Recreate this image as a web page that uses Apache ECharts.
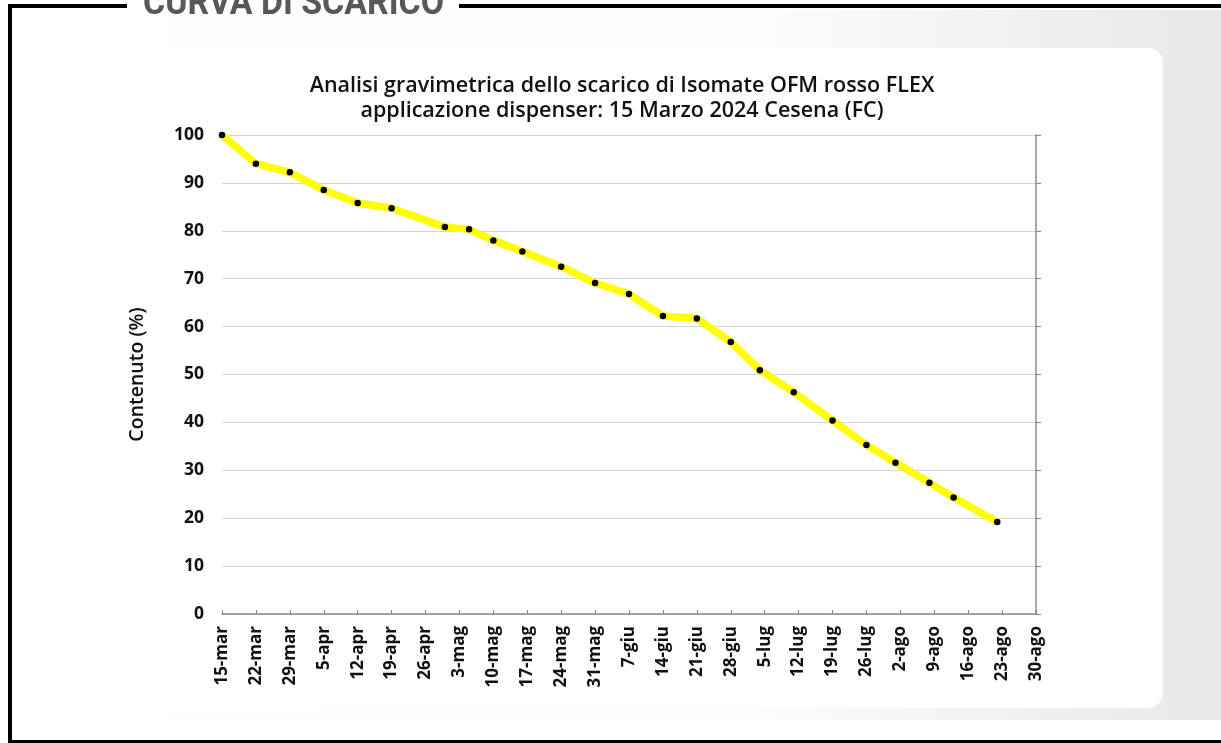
<!DOCTYPE html>
<html>
<head>
<meta charset="utf-8">
<script src="https://cdn.jsdelivr.net/npm/echarts@6/dist/echarts.min.js"></script>
<style>
html,body{margin:0;padding:0;background:#fff;}
#chart{width:1221px;height:743px;}
</style>
</head>
<body>
<div id="chart"></div>
<script>
// Tick labels (weekly, starting 15 March 2024)
const tickLabels = ['15-mar','22-mar','29-mar','5-apr','12-apr','19-apr','26-apr','3-mag','10-mag','17-mag','24-mag','31-mag','7-giu','14-giu','21-giu','28-giu','5-lug','12-lug','19-lug','26-lug','2-ago','9-ago','16-ago','23-ago','30-ago'];
// Measurement day (days since 15 March 2024)
const measureDays = [0, 7, 14, 21, 28, 35, 46, 51, 56, 62, 70, 77, 84, 91, 98, 105, 111, 118, 126, 133, 139, 146, 151, 160];
// Remaining content (%)
const contentValues = [100, 94, 92.2, 88.5, 85.8, 84.7, 80.8, 80.3, 78, 75.7, 72.5, 69.1, 66.8, 62.2, 61.7, 56.8, 50.9, 46.3, 40.4, 35.3, 31.6, 27.4, 24.3, 19.2];

const chartTitle = 'Analisi gravimetrica dello scarico di Isomate OFM rosso FLEX\napplicazione dispenser: 15 Marzo 2024 Cesena (FC)';
const pageTitle = 'CURVA DI SCARICO';
const yName = 'Contenuto (%)';

const seriesData = measureDays.map((d, i) => [d, contentValues[i]]);

const chart = echarts.init(document.getElementById('chart'), null, {renderer: 'canvas'});
const FONT = '"Open Sans", "Noto Sans", sans-serif';

chart.setOption({
  backgroundColor: '#ffffff',
  animation: false,
  title: {
    text: chartTitle,
    left: 617, top: 68, textAlign: 'center',
    textStyle: {fontFamily: FONT, fontSize: 21.5, fontWeight: 600, color: '#111', lineHeight: 25}
  },
  graphic: [
    {type: 'rect', z: -20, shape: {x: 12, y: 10, width: 1209, height: 710},
      style: {fill: new echarts.graphic.LinearGradient(0, 0, 1, 0, [
        {offset: 0, color: '#ffffff'}, {offset: 0.6, color: '#fdfdfd'}, {offset: 1, color: '#e8e8e8'}])}},
    {type: 'rect', z: -19, shape: {x: 75, y: 48, width: 1088, height: 660, r: 15},
      style: {fill: '#ffffff'}},
    {type: 'line', z: 100, shape: {x1: 8, y1: 6, x2: 127, y2: 6}, style: {stroke: '#000', lineWidth: 4}},
    {type: 'line', z: 100, shape: {x1: 459, y1: 6, x2: 1221, y2: 6}, style: {stroke: '#000', lineWidth: 4}},
    {type: 'line', z: 100, shape: {x1: 10, y1: 4, x2: 10, y2: 743}, style: {stroke: '#000', lineWidth: 4}},
    {type: 'line', z: 100, shape: {x1: 8, y1: 741.5, x2: 1221, y2: 741.5}, style: {stroke: '#000', lineWidth: 3}},
    {type: 'text', z: 100, x: 143, y: 5, scaleX: 0.915,
      style: {text: pageTitle, fontFamily: 'Roboto, sans-serif', fontSize: 37, fontWeight: 'bold', fill: '#585858', textVerticalAlign: 'middle', verticalAlign: 'middle'}}
  ],
  grid: {left: 222, right: 185, top: 135, bottom: 129, containLabel: false},
  xAxis: {
    type: 'value', min: 0, max: 168, interval: 7,
    axisLine: {show: true, lineStyle: {color: '#8a8a8a', width: 1.5}},
    axisTick: {show: true, inside: true, length: 4, lineStyle: {color: '#8a8a8a', width: 1.2}},
    splitLine: {show: false},
    axisLabel: {
      rotate: 90, margin: 12, fontFamily: FONT, fontSize: 17, fontWeight: 'bold', color: '#111',
      showMinLabel: true, showMaxLabel: true,
      formatter: v => tickLabels[Math.round(v / 7)] || ''
    }
  },
  yAxis: [{
    type: 'value', min: 0, max: 100, interval: 10, position: 'left',
    name: yName, nameLocation: 'middle', nameGap: 75, nameRotate: 90,
    nameTextStyle: {fontFamily: FONT, fontSize: 19.5, fontWeight: 600, color: '#111'},
    axisLine: {show: false}, axisTick: {show: false},
    axisLabel: {margin: 18, fontFamily: FONT, fontSize: 17.5, fontWeight: 'bold', color: '#111'},
    splitLine: {show: true, lineStyle: {color: '#d4d4d4', width: 1.2}}
  }, {
    type: 'value', min: 0, max: 100, interval: 10, position: 'right',
    axisLine: {show: true, lineStyle: {color: '#8a8a8a', width: 1.5}},
    axisTick: {show: true, length: 5, lineStyle: {color: '#8a8a8a', width: 1.2}},
    axisLabel: {show: false}, splitLine: {show: false}
  }],
  series: [{
    type: 'line', data: seriesData, yAxisIndex: 0,
    lineStyle: {color: '#ffff00', width: 7.5},
    symbol: 'circle', symbolSize: 6.5,
    itemStyle: {color: '#000', borderWidth: 0},
    z: 5
  }]
});
</script>
</body>
</html>
